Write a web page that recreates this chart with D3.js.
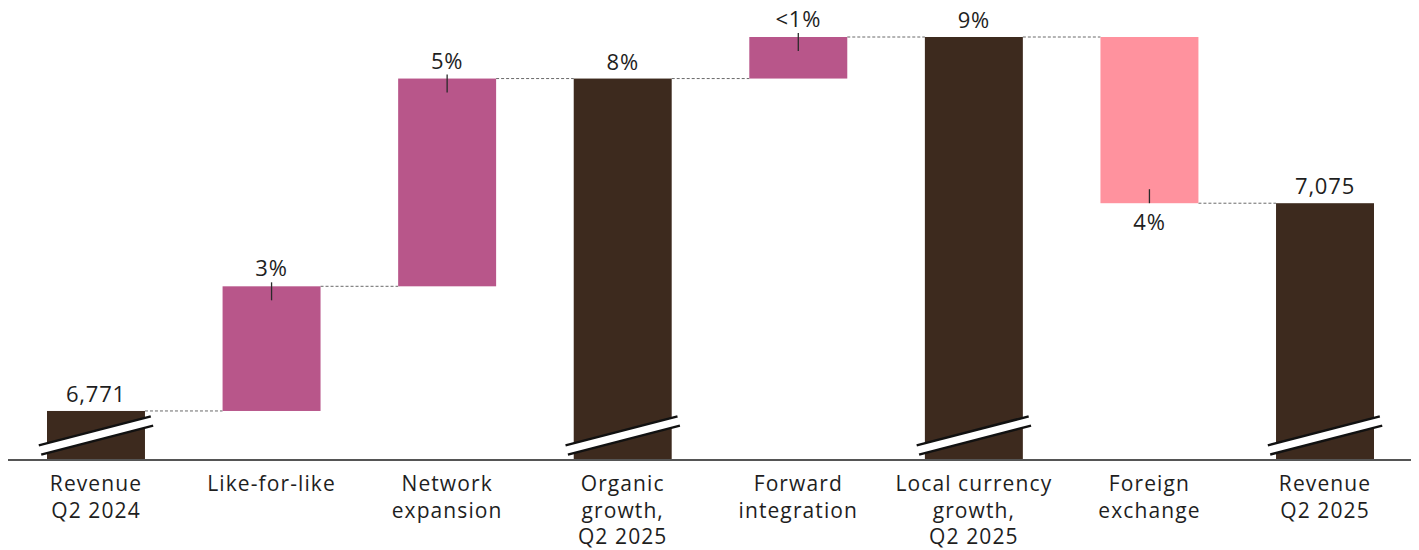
<!DOCTYPE html>
<html><head><meta charset="utf-8">
<script src="https://cdn.jsdelivr.net/npm/d3@7"></script>
<style>body{margin:0;background:#fff}svg{display:block}text{font-family:"Open Sans",sans-serif;fill:#1e1e1e}</style>
</head><body><svg id="c" width="1419" height="550"></svg>
<script>
const categories = [["Revenue","Q2 2024"],["Like-for-like"],["Network","expansion"],["Organic","growth,","Q2 2025"],["Forward","integration"],["Local currency","growth,","Q2 2025"],["Foreign","exchange"],["Revenue","Q2 2025"]];
const kinds = ["total","delta","delta","total","delta","total","deltaNeg","total"];
// change in percentage points (bar drawn to scale of rounded growth)
const deltas = [0,3,5,0,1,0,-4,0];
const valueLabels = ["6,771","3%","5%","8%","<1%","9%","4%","7,075"];

const colors = {total:"#3d2a1e", delta:"#b8568a", deltaNeg:"#ff929e"};
const svg = d3.select("#c");
const baseY = 460;
const x = d3.scaleBand().domain(d3.range(categories.length)).range([47,1374]).paddingInner(0.442).paddingOuter(0);
const y = d3.scaleLinear().domain([-1.18, 9]).range([baseY, 37]);

let cum = 0;
const bars = categories.map((c,i)=>{
  let y0, y1;
  if (kinds[i]==="total") { y0 = y.domain()[0]; y1 = cum; }
  else { y0 = cum; cum += deltas[i]; y1 = cum; }
  return {i, y0, y1, end: kinds[i]==="total"? y1 : cum};
});

// connectors
for (let i=0;i<bars.length-1;i++){
  const lv = y(bars[i].end);
  svg.append("line").attr("x1", x(i)+x.bandwidth()).attr("x2", x(i+1)).attr("y1", lv).attr("y2", lv)
    .attr("stroke","#6a6a6a").attr("stroke-width",1).attr("stroke-dasharray","3,2");
}

// bars
svg.selectAll("rect.bar").data(bars).join("rect").attr("class","bar")
  .attr("x", d=>x(d.i)).attr("width", x.bandwidth())
  .attr("y", d=>Math.min(y(d.y0), y(d.y1))).attr("height", d=>Math.abs(y(d.y0)-y(d.y1)))
  .attr("fill", d=>colors[kinds[d.i]]);

// axis line
svg.append("line").attr("x1",8).attr("x2",1411).attr("y1",baseY).attr("y2",baseY).attr("stroke","#555").attr("stroke-width",2);

// breaks on total bars
bars.filter(d=>kinds[d.i]==="total").forEach(d=>{
  const xl = x(d.i)-7, xr = x(d.i)+x.bandwidth()+7;
  const yl = baseY-10, yr = baseY-39;
  svg.append("line").attr("x1",xl).attr("x2",xr).attr("y1",yl).attr("y2",yr).attr("stroke","#111").attr("stroke-width",12);
  svg.append("line").attr("x1",xl-2).attr("x2",xr+2).attr("y1",yl+0.5).attr("y2",yr-0.5).attr("stroke","#fff").attr("stroke-width",7);
});

// delta ticks and value labels
const vfs = 22;
bars.forEach(d=>{
  const cx = x(d.i)+x.bandwidth()/2;
  const k = kinds[d.i];
  let t;
  if (k==="delta"){
    const top = y(d.y1);
    svg.append("line").attr("x1",cx).attr("x2",cx).attr("y1",top-4).attr("y2",top+14).attr("stroke","#2a2a2a").attr("stroke-width",1.3);
    t = svg.append("text").attr("x",cx).attr("y",top-10);
  } else if (k==="deltaNeg"){
    const b = y(d.y1);
    svg.append("line").attr("x1",cx).attr("x2",cx).attr("y1",b-14).attr("y2",b).attr("stroke","#2a2a2a").attr("stroke-width",1.3);
    t = svg.append("text").attr("x",cx).attr("y",b+27);
  } else {
    t = svg.append("text").attr("x",cx).attr("y",y(d.y1)-9);
  }
  t.attr("text-anchor","middle").attr("font-size",vfs).attr("letter-spacing","0.8px").text(valueLabels[d.i]);
});

// category labels
categories.forEach((lines,i)=>{
  const cx = x(i)+x.bandwidth()/2;
  const t = svg.append("text").attr("x",cx).attr("y",491).attr("text-anchor","middle").attr("font-size",21).attr("letter-spacing","1.1px");
  lines.forEach((l,j)=> t.append("tspan").attr("x",cx).attr("dy", j===0?0:26.5).text(l));
});
</script></body></html>
